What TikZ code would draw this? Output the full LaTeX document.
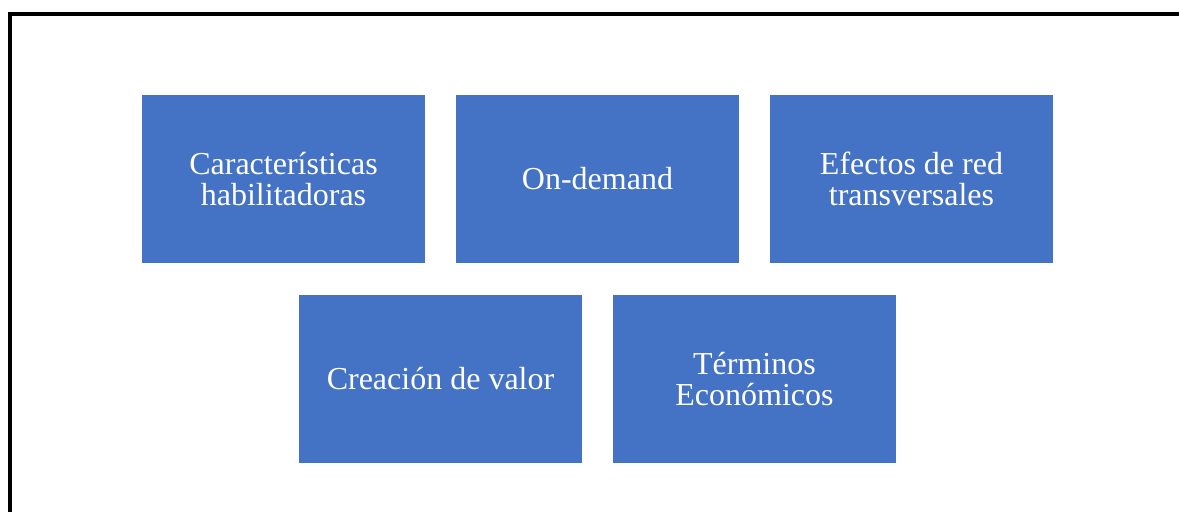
\documentclass[tikz,border=0pt]{standalone}
\usepackage{fontspec}
\setmainfont{Liberation Serif}
\definecolor{boxblue}{HTML}{4472C4}
\begin{document}
\begin{tikzpicture}[x=1pt,y=-1pt,
  box/.style={fill=boxblue, draw=none, minimum width=283pt, minimum height=168pt,
    inner sep=0pt, align=center, text=white, font=\fontsize{32}{31}\selectfont}]
\useasboundingbox (0,0) rectangle (1179,512);
\fill[white] (0,0) rectangle (1179,512);
\coordinate (bl) at (10,512);
\coordinate (tl) at (10,14);
\coordinate (tr) at (1179,14);
\draw[line width=4pt] (bl) -- (tl) -- (tr);
\node[box] (a) at (283.5,179) {Características\\habilitadoras};
\node[box] (b) at (597.5,179) {On-demand};
\node[box] (c) at (911.5,179) {Efectos de red\\transversales};
\node[box] (d) at (440.5,379) {Creación de valor};
\node[box] (e) at (754.5,379) {Términos\\Económicos};
\end{tikzpicture}
\end{document}
